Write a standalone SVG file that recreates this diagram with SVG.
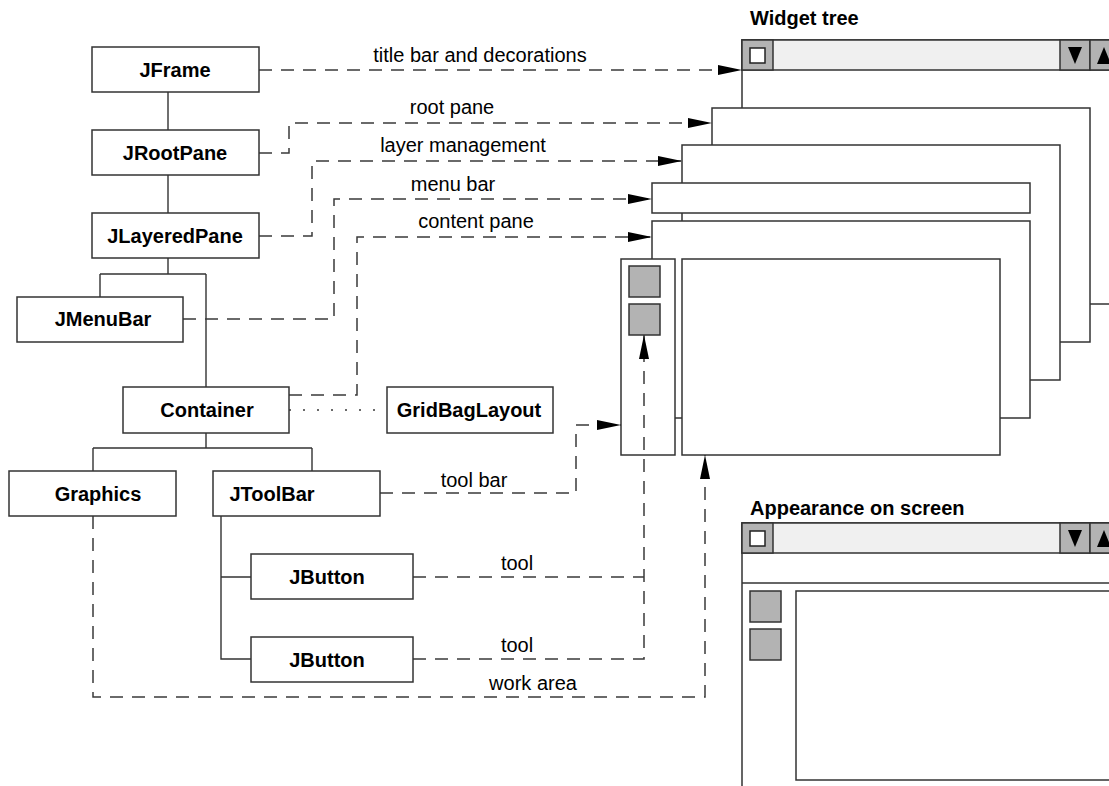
<svg xmlns="http://www.w3.org/2000/svg" width="1109" height="786" viewBox="0 0 1109 786">
<style>
  .box { fill: #ffffff; stroke: #333333; stroke-width: 1.5; }
  .pane { fill: #ffffff; stroke: #333333; stroke-width: 1.5; }
  .tb { fill: #f0f0f0; stroke: #333333; stroke-width: 1.5; }
  .gray { fill: #b3b3b3; stroke: #333333; stroke-width: 1.5; }
  .chk { fill: #ffffff; stroke: #222222; stroke-width: 1.5; }
  .tri { fill: #000000; }
  .tree { fill: none; stroke: #333333; stroke-width: 1.4; }
  .dash { fill: none; stroke: #3a3a3a; stroke-width: 1.5; stroke-dasharray: 13 9; }
  .dot { fill: none; stroke: #3a3a3a; stroke-width: 1.5; stroke-dasharray: 2 12; }
  .arr { marker-end: url(#ah); }
  .nl { font-family: "Liberation Sans", Arial, Helvetica, sans-serif; font-size: 20px; font-weight: bold; fill: #000; text-anchor: middle; }
  .el { font-family: "Liberation Sans", Arial, Helvetica, sans-serif; font-size: 20px; fill: #000; text-anchor: middle; }
  .title { font-family: "Liberation Sans", Arial, Helvetica, sans-serif; font-size: 20px; font-weight: bold; fill: #000; }
</style>
<defs>
  <marker id="ah" markerUnits="userSpaceOnUse" markerWidth="24" markerHeight="10" viewBox="0 0 24 10" refX="24" refY="5" orient="auto">
    <path d="M0,0 L24,5 L0,10 z" fill="#000"/>
  </marker>
</defs>
<rect width="1109" height="786" fill="#ffffff"/>

<!-- Widget tree picture -->
<g id="widget-tree">
  <text class="title" x="750" y="25">Widget tree</text>
  <rect class="pane" x="742" y="40" width="420" height="264"/>
  <rect class="tb" x="742" y="40" width="420" height="30"/>
  <rect class="gray" x="742" y="40" width="31" height="30"/>
  <rect class="chk" x="750" y="48" width="15" height="15"/>
  <rect class="gray" x="1060" y="40" width="30" height="30"/>
  <rect class="gray" x="1090" y="40" width="30" height="30"/>
  <polygon class="tri" points="1068,47 1082,47 1075,64"/>
  <polygon class="tri" points="1097,64 1111,64 1104,47"/>
  <rect id="rootpane-rect" class="pane" x="712" y="108" width="378" height="234"/>
  <rect id="layered-rect" class="pane" x="682" y="145" width="378" height="235"/>
  <rect id="menubar-rect" class="pane" x="652" y="183" width="378" height="30"/>
  <rect id="content-rect" class="pane" x="652" y="221" width="378" height="197"/>
  <rect id="toolbar-rect" class="pane" x="621" y="259" width="54" height="196"/>
  <rect id="workarea-rect" class="pane" x="682" y="259" width="318" height="196"/>
  <rect class="gray" x="629" y="266" width="31" height="31"/>
  <rect class="gray" x="629" y="304" width="31" height="31"/>
</g>

<!-- Appearance on screen -->
<g id="appearance">
  <text class="title" x="750" y="515">Appearance on screen</text>
  <rect class="pane" x="742" y="523" width="420" height="300"/>
  <rect class="tb" x="742" y="523" width="420" height="30"/>
  <rect class="gray" x="742" y="523" width="31" height="30"/>
  <rect class="chk" x="750" y="531" width="15" height="15"/>
  <rect class="gray" x="1060" y="523" width="30" height="30"/>
  <rect class="gray" x="1090" y="523" width="30" height="30"/>
  <polygon class="tri" points="1068,530 1082,530 1075,547"/>
  <polygon class="tri" points="1097,547 1111,547 1104,530"/>
  <line class="tree" x1="742" y1="583" x2="1109" y2="583"/>
  <rect class="gray" x="750" y="591" width="31" height="31"/>
  <rect class="gray" x="750" y="629" width="31" height="31"/>
  <rect class="pane" x="796" y="591" width="340" height="189"/>
</g>

<!-- Connectors -->
<g id="connectors">
  <path class="tree" d="M168,92 V130 M168,175 V213 M168,258 V274 M100,274 H206 M100,274 V297 M206,274 V387 M206,433 V448 M93,448 H312 M93,448 V471 M312,448 V471 M221,516 V659 H251 M221,577 H251"/>
  <path class="dash arr" d="M259,70 H742"/>
  <path class="dash arr" d="M259,153 H289 V123 H712"/>
  <path class="dash arr" d="M259,236 H312 V161 H682"/>
  <path class="dash arr" d="M183,319 H334 V199 H652"/>
  <path class="dash arr" d="M289,395 H357 V237 H652"/>
  <path class="dot" d="M289,410 H387"/>
  <path class="dash arr" d="M380,493 H576 V425 H621"/>
  <path class="dash" d="M413,577 H644"/>
  <path class="dash arr" d="M413,659 H644 V335"/>
  <path class="dash arr" d="M93,516 V697 H705 V455"/>
  <text class="el" x="480" y="62">title bar and decorations</text>
  <text class="el" x="452" y="114">root pane</text>
  <text class="el" x="463" y="152">layer management</text>
  <text class="el" x="453" y="191">menu bar</text>
  <text class="el" x="476" y="228">content pane</text>
  <text class="el" x="474" y="487">tool bar</text>
  <text class="el" x="517" y="570">tool</text>
  <text class="el" x="517" y="652">tool</text>
  <text class="el" x="533" y="690">work area</text>
</g>

<!-- Nodes -->
<g id="node-jframe"><rect class="box" x="92" y="47" width="167" height="45"/><text class="nl" x="175" y="77">JFrame</text></g>
<g id="node-jrootpane"><rect class="box" x="92" y="130" width="167" height="45"/><text class="nl" x="175" y="160">JRootPane</text></g>
<g id="node-jlayeredpane"><rect class="box" x="92" y="213" width="167" height="45"/><text class="nl" x="175" y="243">JLayeredPane</text></g>
<g id="node-jmenubar"><rect class="box" x="17" y="297" width="166" height="45"/><text class="nl" x="103" y="326">JMenuBar</text></g>
<g id="node-container"><rect class="box" x="123" y="387" width="166" height="46"/><text class="nl" x="207" y="417">Container</text></g>
<g id="node-gridbaglayout"><rect class="box" x="387" y="387" width="166" height="46"/><text class="nl" x="469" y="417">GridBagLayout</text></g>
<g id="node-graphics"><rect class="box" x="9" y="471" width="167" height="45"/><text class="nl" x="98" y="501">Graphics</text></g>
<g id="node-jtoolbar"><rect class="box" x="213" y="471" width="167" height="45"/><text class="nl" x="272" y="501">JToolBar</text></g>
<g id="node-jbutton1"><rect class="box" x="251" y="554" width="162" height="45"/><text class="nl" x="327" y="584">JButton</text></g>
<g id="node-jbutton2"><rect class="box" x="251" y="637" width="162" height="45"/><text class="nl" x="327" y="667">JButton</text></g>
</svg>
